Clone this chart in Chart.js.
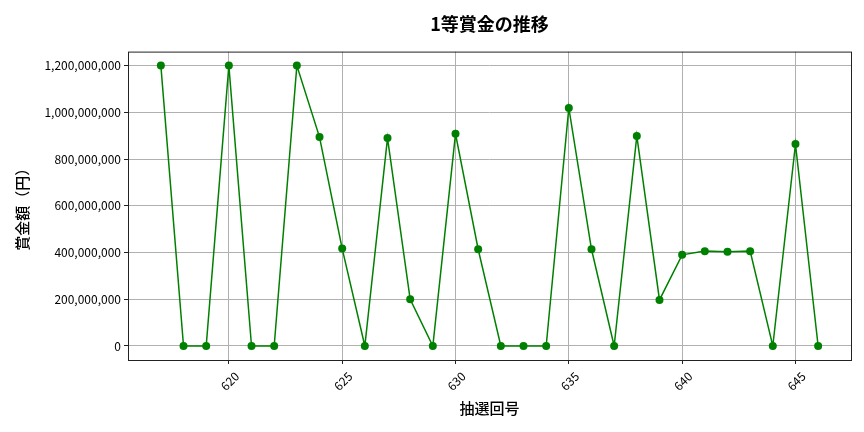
<!DOCTYPE html>
<html>
<head>
<meta charset="utf-8">
<script src="https://cdn.jsdelivr.net/npm/chart.js@4"></script>
<style>
  html, body { margin: 0; padding: 0; background: #fff; }
  #wrap { width: 864px; height: 432px; }
</style>
</head>
<body>
<div id="wrap"><canvas id="myChart" width="864" height="432"></canvas></div>
<script>
// draw numbers (x) and 1st prize amount in yen (y)
const drawNumbers = [617, 618, 619, 620, 621, 622, 623, 624, 625, 626, 627, 628, 629, 630, 631,
                     632, 633, 634, 635, 636, 637, 638, 639, 640, 641, 642, 643, 644, 645, 646];
const prizeValues = [1200000000, 0, 0, 1200000000, 0, 0, 1200000000, 894000000, 417000000, 0,
                     890000000, 200000000, 0, 908000000, 414000000, 0, 0, 0, 1019000000, 414000000,
                     0, 899000000, 197000000, 390000000, 406000000, 403000000, 406000000, 0, 864000000, 0];
const xTicks = [620, 625, 630, 635, 640, 645];
const yTicks = [0, 200000000, 400000000, 600000000, 800000000, 1000000000, 1200000000];

const FONT = "'Noto Sans CJK JP', 'Noto Sans', sans-serif";

const points = drawNumbers.map((n, i) => ({x: n, y: prizeValues[i]}));

// matplotlib style box around the plot area
const frame = {
  id: 'frame',
  afterDraw(chart) {
    const a = chart.chartArea, c = chart.ctx;
    c.save();
    c.strokeStyle = '#222';
    c.lineWidth = 1;
    c.strokeRect(a.left + 0.5, a.top + 0.5, a.right - a.left, a.bottom - a.top);
    c.restore();
  }
};

// rotated x labels centred on their tick, like matplotlib
const centreLabels = {
  id: 'centreLabels',
  beforeDraw(chart) {
    const s = chart.scales.x;
    const items = s.getLabelItems();
    if (items._shifted) return;
    const c = chart.ctx;
    c.save();
    c.font = s._resolveTickFontOptions(0).string;
    items.forEach(it => {
      const w = c.measureText(String(it.label)).width;
      it.options.translation[0] += w * Math.SQRT1_2 / 2 + 1;
    });
    c.restore();
    items._shifted = true;
  }
};

const config = {
  type: 'line',
  data: {
    datasets: [{
      data: points,
      borderColor: '#008000',
      backgroundColor: '#008000',
      borderWidth: 1.5,
      pointRadius: 4,
      pointBorderWidth: 0,
      tension: 0
    }]
  },
  options: {
    responsive: false,
    animation: false,
    layout: { padding: { left: 0, right: 13, top: 0, bottom: 0 } },
    plugins: {
      legend: { display: false },
      tooltip: { enabled: false },
      title: {
        display: true,
        text: '1等賞金の推移',
        fullSize: false,
        color: '#000',
        font: { family: FONT, size: 18, weight: 'bold', lineHeight: 1.2 },
        padding: { top: 13, bottom: 17 }
      }
    },
    scales: {
      x: {
        type: 'linear',
        min: 615.55,
        max: 647.45,
        afterBuildTicks: s => { s.ticks = xTicks.map(v => ({value: v})); },
        afterFit: s => { s.height = 72; },
        grid: { color: '#b0b0b0', tickColor: '#222', tickLength: 4, drawTicks: true },
        border: { display: false },
        ticks: {
          color: '#000',
          font: { family: FONT, size: 12 },
          maxRotation: 45,
          minRotation: 45,
          padding: 5,
          callback: v => String(v)
        },
        title: {
          display: true,
          text: '抽選回号',
          color: '#000',
          font: { family: FONT, size: 15, weight: 500, lineHeight: 1.2 },
          padding: { top: 0, bottom: 15 }
        }
      },
      y: {
        type: 'linear',
        min: -60000000,
        max: 1260000000,
        afterBuildTicks: s => { s.ticks = yTicks.map(v => ({value: v})); },
        afterFit: s => { s.width = 128; },
        grid: { color: '#b0b0b0', tickColor: '#222', tickLength: 4, drawTicks: true },
        border: { display: false },
        ticks: {
          color: '#000',
          font: { family: FONT, size: 12 },
          padding: 3,
          callback: v => v.toLocaleString('en-US')
        },
        title: {
          display: true,
          text: '賞金額（円）',
          color: '#000',
          font: { family: FONT, size: 15, weight: 500, lineHeight: 1.2 },
          padding: { top: 13, bottom: 0 }
        }
      }
    }
  },
  plugins: [frame, centreLabels]
};

const myChart = new Chart(document.getElementById('myChart'), config);
</script>
</body>
</html>
